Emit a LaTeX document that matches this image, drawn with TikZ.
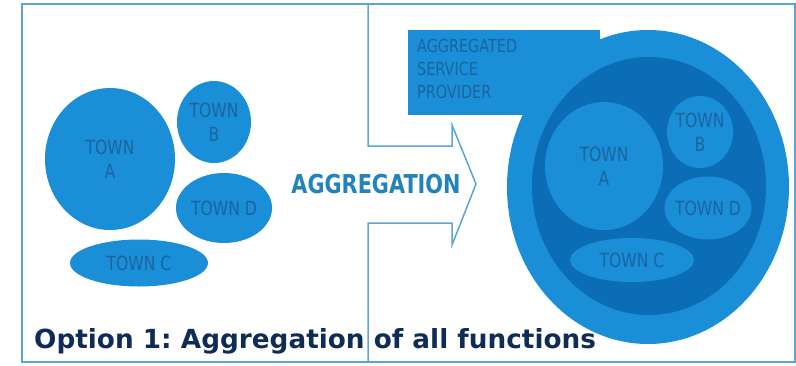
\documentclass[tikz,border=0pt]{standalone}
\usepackage{fontspec}
\setmainfont{DejaVu Sans}
\newfontfamily\narrowfont[FakeStretch=0.8]{DejaVu Sans}
\usetikzlibrary{shapes.geometric}
\definecolor{bubble}{HTML}{1A8ED6}
\definecolor{bubbledark}{HTML}{0B6DB6}
\definecolor{townink}{HTML}{1C64A0}
\definecolor{frameline}{HTML}{5AA6D6}
\definecolor{arrowink}{HTML}{2282BC}
\definecolor{captionink}{HTML}{0E2C55}
\frenchspacing
\begin{document}
\begin{tikzpicture}[x=1pt, y=-1pt,
    town/.style={ellipse, fill=bubble, inner sep=-8pt, align=center, text=townink,
      font=\narrowfont\fontsize{19.5}{24}\selectfont},
    outline/.style={draw=frameline, line width=1.5pt}]
  \useasboundingbox (0,0) rectangle (796,365);
  \draw[outline] (22,4) rectangle (795,362);
  \draw[outline, line join=miter] (368,4) -- (368,146) -- (452,146) -- (452,125) -- (476,184)
    -- (452,245) -- (452,223) -- (368,223) -- (368,362);
  \node[text=arrowink, font=\narrowfont\bfseries\fontsize{26}{26}\selectfont] (aggr) at (376,184) {AGGREGATION};

  \node[town, minimum width=130, minimum height=142] (townA) at (110,159) {TOWN\\A};
  \node[town, minimum width=74, minimum height=82] (townB) at (214,122) {TOWN\\B};
  \node[town, minimum width=96, minimum height=70] (townD) at (224,208) {TOWN D};
  \node[town, minimum width=138, minimum height=47] (townC) at (139,263) {TOWN C};

  \fill[bubble] (408,30) rectangle (600,115);
  \fill[bubble] (648,187) ellipse [x radius=141, y radius=157];
  \fill[bubbledark] (649,186) ellipse [x radius=117, y radius=129];
  \node[anchor=north west, align=left, text=townink, inner sep=0pt,
    font=\narrowfont\fontsize{18}{23}\selectfont] (provider) at (417,39) {AGGREGATED\\SERVICE\\PROVIDER};

  \node[town, minimum width=118, minimum height=128] (innerA) at (604,166) {TOWN\\A};
  \node[town, minimum width=66, minimum height=72] (innerB) at (700,132) {TOWN\\B};
  \node[town, minimum width=87, minimum height=63] (innerD) at (708,208) {TOWN D};
  \node[town, minimum width=124, minimum height=44] (innerC) at (632,260) {TOWN C};

  \node[anchor=base west, inner sep=0pt, text=captionink,
    font=\bfseries\fontsize{26.3}{26}\selectfont] (caption) at (34,348) {Option 1: Aggregation of all functions};
\end{tikzpicture}
\end{document}
